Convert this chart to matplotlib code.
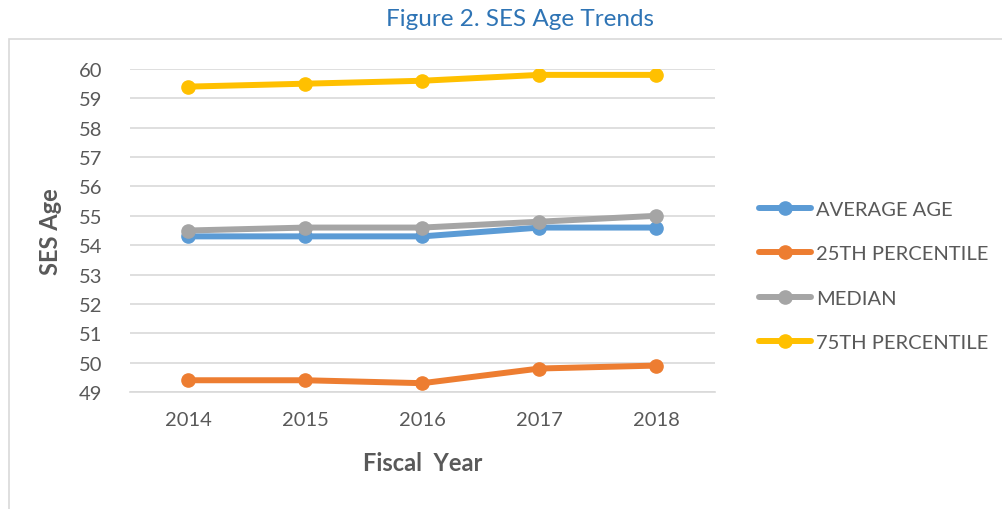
import matplotlib.pyplot as plt
from matplotlib.patches import Rectangle

# data
years = ["2014", "2015", "2016", "2017", "2018"]
average_age = [54.3, 54.3, 54.3, 54.6, 54.6]
pct_25 = [49.4, 49.4, 49.3, 49.8, 49.9]
median = [54.5, 54.6, 54.6, 54.8, 55.0]
pct_75 = [59.4, 59.5, 59.6, 59.8, 59.8]

series = [
    ("AVERAGE AGE", average_age, "#5B9BD5"),
    ("25TH PERCENTILE", pct_25, "#ED7D31"),
    ("MEDIAN", median, "#A5A5A5"),
    ("75TH PERCENTILE", pct_75, "#FFC000"),
]

plt.rcParams["font.family"] = ["Lato", "DejaVu Sans"]
text_color = "#595959"

W, H = 1003, 510
fig = plt.figure(figsize=(W / 100, H / 100), dpi=100)

# chart frame (light gray box that starts below the title)
fig.patches.append(
    Rectangle((9 / W, -0.01), 1.02 - 9 / W, (H - 40) / H + 0.01,
              transform=fig.transFigure, fill=False,
              edgecolor="#D9D9D9", linewidth=1.2)
)

ax = fig.add_axes([130 / W, 1 - 393 / H, (715 - 130) / W, (393 - 70) / H])

x = range(len(years))
for name, values, color in series:
    ax.plot(x, values, color=color, linewidth=4.3, marker="o",
            markersize=9.5, label=name, solid_capstyle="round")

ax.set_xlim(-0.5, len(years) - 0.5)
ax.set_ylim(49, 60)
ax.set_yticks(range(49, 61))
ax.set_xticks(list(x))
ax.set_xticklabels(years)
ax.grid(axis="y", color="#D9D9D9", linewidth=1.2)
ax.set_axisbelow(True)
for side in ["top", "right", "left"]:
    ax.spines[side].set_visible(False)
ax.spines["bottom"].set_color("#D9D9D9")
ax.spines["bottom"].set_linewidth(1.2)
ax.tick_params(axis="both", length=0, labelsize=14.5, colors=text_color)
ax.tick_params(axis="y", pad=20)
ax.tick_params(axis="x", pad=14)

ax.set_ylabel("SES Age", fontsize=17, fontweight="bold", color=text_color, labelpad=12)
ax.set_xlabel("Fiscal  Year", fontsize=17, fontweight="bold", color=text_color, labelpad=16)

fig.text(520 / W, 1 - 19 / H, "Figure 2. SES Age Trends", ha="center", va="center",
         fontsize=17.5, color="#2E74B5")

leg = ax.legend(loc="center left", bbox_to_anchor=(751 / W, 1 - 277 / H),
                bbox_transform=fig.transFigure, frameon=False, fontsize=14.5,
                labelcolor=text_color, handlelength=2.6, handletextpad=0.25,
                labelspacing=1.36, borderaxespad=0)

fig.savefig("out.png", dpi=100)
